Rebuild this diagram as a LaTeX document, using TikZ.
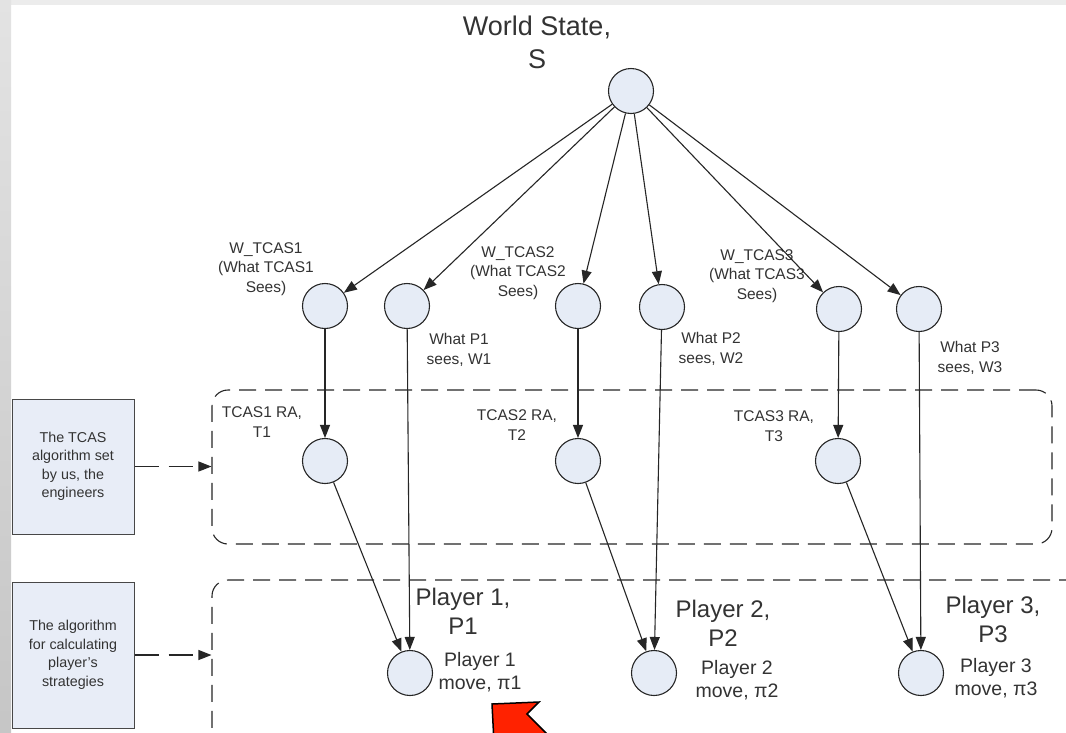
\documentclass[tikz,border=0pt]{standalone}
\usepackage{fontspec}
\setmainfont{Liberation Sans}
\usetikzlibrary{arrows.meta}
\definecolor{nodefill}{HTML}{E6ECF6}
\definecolor{ink}{HTML}{262626}
\definecolor{txt}{HTML}{333333}
\definecolor{boxfill}{HTML}{E8EDF7}
\definecolor{alert}{HTML}{FF2200}
\begin{document}
\begin{tikzpicture}[x=1pt,y=-1pt,
  state/.style={circle, draw=ink, fill=nodefill, line width=1.1pt, minimum size=45pt, inner sep=0pt},
  link/.style={draw=ink, line width=1.1pt, -{Triangle[length=13pt,width=10pt]}},
  hint/.style={draw=ink, line width=1.1pt, dash pattern=on 24pt off 10pt, -{Triangle[length=13pt,width=10pt]}},
  zone/.style={draw=ink, line width=1.1pt, rounded corners=16pt, dash pattern=on 17pt off 9pt, inner sep=0pt},
  infobox/.style={draw=ink!85, fill=boxfill, line width=1pt, inner sep=0pt, text=txt, align=center,
    font=\fontsize{14.3}{18.5}\selectfont},
  lbl/.style={text=txt, align=center, inner sep=0pt, font=\fontsize{15.5}{19.5}\selectfont},
  bigl/.style={text=txt, align=center, inner sep=0pt, font=\fontsize{24}{29}\selectfont},
  movel/.style={text=txt, align=center, inner sep=0pt, font=\fontsize{19.5}{22.5}\selectfont}
]
\useasboundingbox (0,0) rectangle (1066,732);
\clip (0,0) rectangle (1066,732);
% page background and frame
\fill[white] (0,0) rectangle (1066,732);
\fill[gray!15] (0,0) rectangle (1066,5);
\shade[top color=gray!22, bottom color=gray!45] (0,0) rectangle (11,732);

% dashed groups
\node[zone, minimum width=840pt, minimum height=154pt] (grpT) at (632,467) {};
\node[zone, minimum width=880pt, minimum height=165pt] (grpP) at (652,662.5) {};

% explanatory boxes
\node[infobox, minimum width=122pt, minimum height=135pt] (boxA) at (73,466.5)
  {The TCAS\\algorithm set\\by us, the\\engineers};
\node[infobox, minimum width=122pt, minimum height=146pt] (boxB) at (73,655)
  {The algorithm\\for calculating\\player's\\strategies};

% state nodes
\node[state] (S) at (631,91) {};
\node[state] (w1) at (325,306) {};
\node[state] (v1) at (407,306) {};
\node[state] (w2) at (578,306) {};
\node[state] (v2) at (662,307) {};
\node[state] (w3) at (839,309) {};
\node[state] (v3) at (919,309) {};
\node[state] (t1) at (325,461) {};
\node[state] (t2) at (578,461) {};
\node[state] (t3) at (838,461) {};
\node[state] (p1) at (410,673) {};
\node[state] (p2) at (654,673) {};
\node[state] (p3) at (921,673) {};

% labels
\node[text=txt, align=center, inner sep=0pt, font=\fontsize{27}{33}\selectfont] (lS) at (537,42) {World State,\\S};
\node[lbl] (lw1) at (266,269) {W\_TCAS1\\(What TCAS1\\Sees)};
\node[lbl] (lw2) at (518,273) {W\_TCAS2\\(What TCAS2\\Sees)};
\node[lbl] (lw3) at (757,276) {W\_TCAS3\\(What TCAS3\\Sees)};
\node[lbl] (lv1) at (459,350) {What P1\\sees, W1};
\node[lbl] (lv2) at (711,349) {What P2\\sees, W2};
\node[lbl] (lv3) at (970,358) {What P3\\sees, W3};
\node[lbl] (lt1) at (262,422) {TCAS1 RA,\\T1};
\node[lbl] (lt2) at (517,425) {TCAS2 RA,\\T2};
\node[lbl] (lt3) at (774,426) {TCAS3 RA,\\T3};
\node[bigl] (lp1) at (463,611) {Player 1,\\P1};
\node[bigl] (lp2) at (723,623) {Player 2,\\P2};
\node[bigl] (lp3) at (993,619) {Player 3,\\P3};
\node[movel] (lm1) at (480,672) {Player 1\\move, π1};
\node[movel] (lm2) at (737,680) {Player 2\\move, π2};
\node[movel] (lm3) at (996,678) {Player 3\\move, π3};

% connectors
\foreach \n in {w1,v1,w2,v2,w3,v3} \draw[link] (S) -- (\n);
\draw[link] (w1) -- (t1);
\draw[link] (w2) -- (t2);
\draw[link] (w3) -- (t3);
\draw[link] (v1) -- (p1);
\draw[link] (v2) -- (p2);
\draw[link] (v3) -- (p3);
\draw[link] (t1) -- (p1);
\draw[link] (t2) -- (p2);
\draw[link] (t3) -- (p3);
\draw[hint] (boxA.east) -- (boxA.east -| grpT.west);
\draw[hint] (boxB.east) -- (boxB.east -| grpP.west);

% pointer at the bottom edge
\filldraw[fill=alert, draw=black, line width=1.5pt, line join=miter]
  (492,704) -- (539,702) -- (527,714) -- (562,749) -- (495,762) -- cycle;
\end{tikzpicture}
\end{document}
